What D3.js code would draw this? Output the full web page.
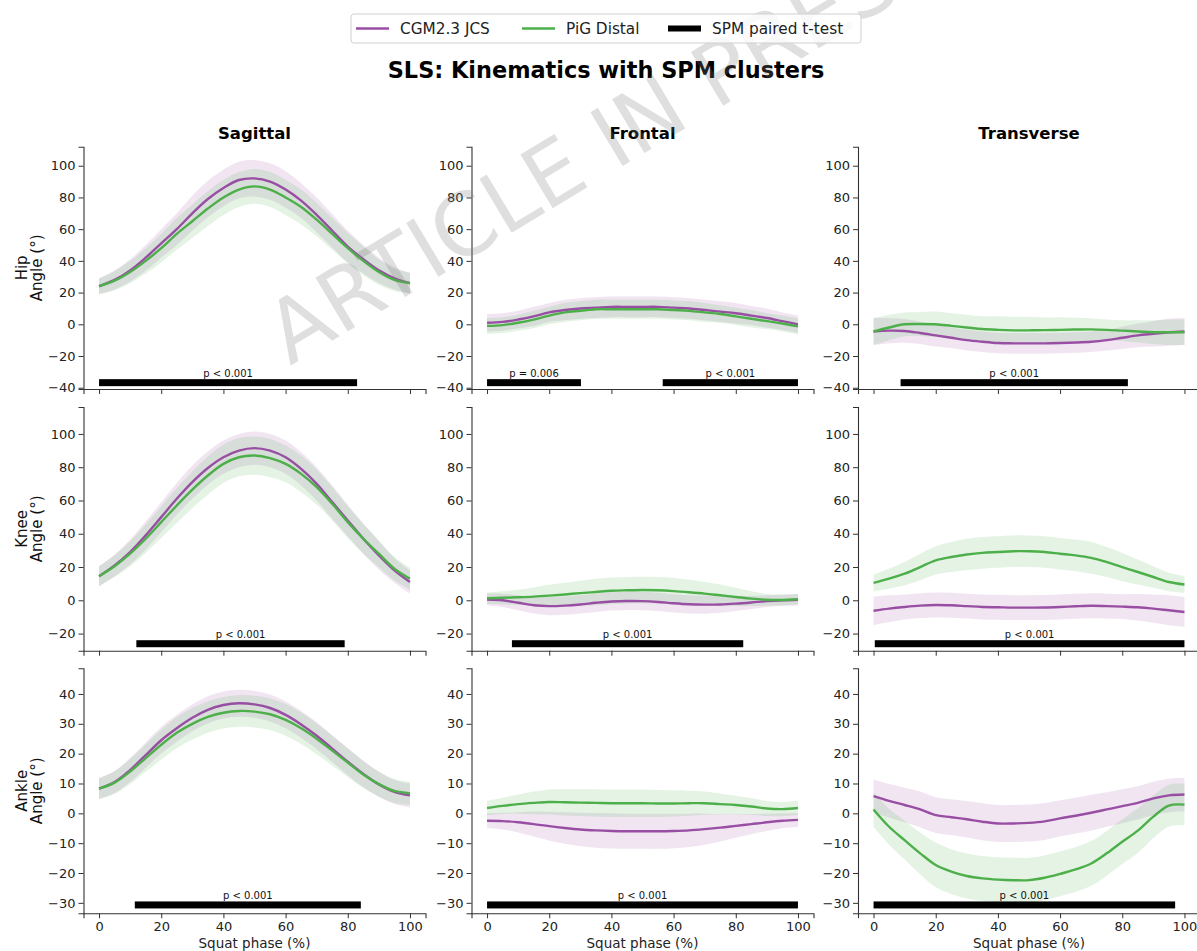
<!DOCTYPE html>
<html>
<head>
<meta charset="utf-8">
<script src="https://cdn.jsdelivr.net/npm/d3@7"></script>
<style>
  body { margin: 0; background: #fff; }
  svg { display: block; font-family: "DejaVu Sans", sans-serif; }
</style>
</head>
<body>
<svg id="chart" width="1197" height="951"></svg>
<script>
// squat phase sampled every 5 %
const phase = d3.range(0, 101, 5)
const planes = ["Sagittal", "Frontal", "Transverse"]
const joints = ["Hip", "Knee", "Ankle"]
const seriesNames = ["CGM2.3 JCS", "PiG Distal", "SPM paired t-test"]
const xTicks = [0, 20, 40, 60, 80, 100]
const yTicksHip = [-40, -20, 0, 20, 40, 60, 80, 100]
const yTicksKnee = [-20, 0, 20, 40, 60, 80, 100]
const yTicksAnkle = [-30, -20, -10, 0, 10, 20, 30, 40]

// mean and SD, CGM2.3 JCS (cgm) and PiG Distal (pig)
const hipSagCgm = [24, 28, 34, 42, 51, 60, 70, 79, 86, 91, 92, 90, 85, 78, 69, 59, 49, 41, 34, 29, 26]
const hipSagCgmSd = [5, 6, 7, 8, 9, 10, 11, 11.5, 11.5, 11.5, 11.5, 11.5, 11.5, 11, 11, 10.5, 10, 9, 8, 7, 6.5]
const hipSagPig = [24, 27.5, 33, 40, 48, 57, 65, 73, 80, 85, 87, 85, 80, 74, 66, 57, 48, 40, 33, 28, 26]
const hipSagPigSd = [5, 6, 7, 8, 9, 10, 10.5, 11, 11, 11, 11, 11, 11, 11, 10.5, 10, 9.5, 9, 8, 7, 6.5]

const hipFroCgm = [1, 1.5, 3, 5, 7.5, 9, 10, 10.5, 11, 11, 11, 11, 10.5, 10, 9, 8, 7, 5.5, 4, 2, 0]
const hipFroCgmSd = [5.5, 5.5, 5.5, 6, 6, 6.5, 6.5, 6.5, 6.5, 6.5, 6.5, 6.5, 6.5, 6.5, 6.5, 6.5, 6.5, 6, 6, 5.5, 5.5]
const hipFroPig = [-1, -0.5, 1, 3, 5.5, 7.5, 8.5, 9.5, 9.5, 9.5, 9.5, 9.5, 9, 8.5, 7.5, 6.5, 5, 3.5, 2, 0.5, -1.3]
const hipFroPigSd = [5, 5, 5, 5.5, 5.5, 6, 6, 6, 6, 6, 6, 6, 6, 6, 6, 5.5, 5.5, 5.5, 5, 5, 5]

const hipTraCgm = [-4.5, -4, -4.2, -5.5, -7, -8.5, -10, -11, -11.8, -12, -12, -12, -11.8, -11.5, -11, -10, -8.5, -7, -6, -5, -4.5]
const hipTraCgmSd = [8.5, 8, 7.5, 7, 7, 6.5, 6.5, 6.5, 6.5, 6.5, 6.5, 6.5, 6.5, 6.5, 6.5, 6.5, 7, 7.5, 8, 8.5, 8.5]
const hipTraPig = [-4.5, -2, 0, 0.2, 0, -1, -2, -3, -3.5, -3.8, -3.8, -3.7, -3.5, -3.3, -3.2, -3.5, -4, -4.5, -5, -5, -5]
const hipTraPigSd = [8.5, 8, 7.5, 7.5, 8, 8, 8, 8, 8.5, 8.5, 8.5, 8, 8, 7.5, 7, 6.5, 6.5, 7, 7.5, 8, 8]

const kneeSagCgm = [14.5, 21, 29, 39, 50, 61, 71, 79.5, 86, 90, 91.5, 90, 86, 79, 70, 59, 48, 37, 27, 18, 11]
const kneeSagCgmSd = [6, 6.5, 7.5, 8.5, 9, 9.5, 10, 10, 10, 10, 10, 10, 10, 10, 10, 10, 9.5, 9, 8.5, 7.5, 7]
const kneeSagPig = [14.5, 20.5, 28, 37, 47, 57, 66.5, 75, 82, 86, 87, 85.5, 82, 76, 68, 58, 47, 37, 28, 19, 13]
const kneeSagPigSd = [6, 6.5, 7.5, 8.5, 9.5, 10.5, 11, 11.5, 11.5, 11.5, 11.5, 11.5, 11, 11, 10.5, 10, 9.5, 9, 8, 7, 6.5]

const kneeFroCgm = [0.5, 0, -1.5, -3, -3.5, -3.2, -2.5, -1.5, -0.7, -0.4, -0.5, -1, -1.8, -2.4, -2.6, -2.5, -2, -1.3, -0.5, 0, 0.3]
const kneeFroCgmSd = [3.5, 4, 4.5, 5, 5.5, 5.5, 5.5, 5.5, 5.5, 5.5, 5.5, 5.5, 5.5, 5.5, 5.5, 5, 4.5, 4, 3.5, 3.5, 3.5]
const kneeFroPig = [1.2, 1.5, 1.8, 2.2, 2.8, 3.5, 4.3, 5, 5.7, 6, 6.2, 6, 5.5, 4.8, 4, 3, 2, 1, 0.3, 0.2, 0.6]
const kneeFroPigSd = [3.5, 4, 4.5, 5.5, 6.5, 7, 7.5, 8, 8, 8, 8, 8, 8, 7.5, 7, 6.5, 5.5, 4.5, 3.5, 3.2, 3.2]

const kneeTraCgm = [-6.3, -5, -4, -3.2, -2.8, -3, -3.5, -4, -4.2, -4.4, -4.4, -4.3, -4, -3.6, -3.3, -3.5, -3.8, -4.2, -5, -6, -7]
const kneeTraCgmSd = [8.5, 8, 7.5, 7.5, 7.5, 7.5, 7.5, 7.5, 7.5, 7.5, 7.5, 7.5, 7.5, 7.5, 7.5, 7.5, 7.5, 8, 8.5, 9, 9]
const kneeTraPig = [10.5, 13, 16, 20, 24, 26, 27.5, 28.5, 29, 29.5, 29.5, 29, 28, 27, 25.5, 23, 20, 17, 14, 11, 9.5]
const kneeTraPigSd = [5, 6, 7, 8, 8.5, 9, 9.5, 9.5, 9.5, 9.5, 9.5, 9.5, 9.5, 9.5, 9.5, 9, 8.5, 7.5, 6.5, 5.5, 5]

const ankSagCgm = [8.3, 10.5, 14.5, 19.5, 24.5, 28.5, 32, 34.7, 36.3, 36.9, 36.5, 35.3, 33, 29.8, 26, 21.7, 17.3, 13.2, 9.7, 7.2, 6]
const ankSagCgmSd = [3.5, 3.7, 4, 4.2, 4.4, 4.5, 4.5, 4.5, 4.5, 4.5, 4.5, 4.5, 4.5, 4.5, 4.5, 4.5, 4.5, 4.4, 4.2, 4, 4]
const ankSagPig = [8.3, 10.3, 14, 18.5, 23, 27, 30, 32.3, 33.7, 34.3, 34.1, 33.2, 31.3, 28.5, 25, 21, 17, 13, 9.8, 7.5, 6.7]
const ankSagPigSd = [3.5, 3.8, 4.2, 4.6, 5, 5.2, 5.3, 5.3, 5.3, 5.3, 5.3, 5.3, 5.3, 5.3, 5.2, 5, 4.8, 4.5, 4.2, 4, 3.8]

const ankFroCgm = [-2.5, -2.6, -3, -3.6, -4.3, -4.9, -5.4, -5.7, -5.9, -6, -6, -6, -5.9, -5.7, -5.3, -4.8, -4.2, -3.6, -3, -2.5, -2.2]
const ankFroCgmSd = [2.5, 2.8, 3.4, 4.2, 4.8, 5.3, 5.6, 5.8, 5.9, 5.9, 5.9, 5.9, 5.8, 5.6, 5.2, 4.6, 4, 3.4, 2.9, 2.5, 2.3]
const ankFroPig = [1.8, 2.5, 3.1, 3.5, 3.8, 3.7, 3.6, 3.5, 3.4, 3.4, 3.4, 3.3, 3.3, 3.4, 3.4, 3.1, 2.8, 2.3, 1.6, 1.4, 1.8]
const ankFroPigSd = [2.4, 2.7, 3.2, 3.8, 4.2, 4.4, 4.5, 4.6, 4.6, 4.6, 4.6, 4.5, 4.4, 4.2, 3.9, 3.5, 3.1, 2.8, 2.5, 2.4, 2.4]

const ankTraCgm = [5.8, 4.2, 2.8, 1.3, -0.6, -1.3, -2, -2.8, -3.4, -3.4, -3.2, -2.7, -1.7, -0.8, 0.2, 1.3, 2.4, 3.5, 5, 6, 6.3]
const ankTraCgmSd = [5.5, 5.6, 5.8, 6, 6, 6, 6.1, 6.2, 6.2, 6.2, 6.2, 6.2, 6.1, 6, 6, 5.8, 5.7, 5.6, 5.6, 5.6, 5.6]
const ankTraPig = [1.3, -4.5, -9, -13.4, -17.3, -19.5, -21, -21.8, -22.2, -22.4, -22.4, -21.6, -20.3, -18.8, -16.8, -13.4, -9.5, -5.8, -1.1, 2.6, 2.9]
const ankTraPigSd = [5.8, 6, 6.5, 7, 7.5, 7.5, 7.5, 7.5, 7.5, 7.5, 7.5, 7.5, 7.5, 7.5, 7.5, 7.5, 7.5, 7.5, 7.2, 7, 7]

// SPM clusters: [start %, end %, p label]
const hipSagSpm = [[0, 83, "p < 0.001"]]
const hipFroSpm = [[0, 30.2, "p = 0.006"], [56.5, 100, "p < 0.001"]]
const hipTraSpm = [[8.7, 81.8, "p < 0.001"]]
const kneeSagSpm = [[12, 79, "p < 0.001"]]
const kneeFroSpm = [[8, 82.4, "p < 0.001"]]
const kneeTraSpm = [[0.4, 100, "p < 0.001"]]
const ankSagSpm = [[11.5, 84.2, "p < 0.001"]]
const ankFroSpm = [[0, 100, "p < 0.001"]]
const ankTraSpm = [[0, 97, "p < 0.001"]]

const panels = [
  [hipSagCgm, hipSagCgmSd, hipSagPig, hipSagPigSd, hipSagSpm],
  [hipFroCgm, hipFroCgmSd, hipFroPig, hipFroPigSd, hipFroSpm],
  [hipTraCgm, hipTraCgmSd, hipTraPig, hipTraPigSd, hipTraSpm],
  [kneeSagCgm, kneeSagCgmSd, kneeSagPig, kneeSagPigSd, kneeSagSpm],
  [kneeFroCgm, kneeFroCgmSd, kneeFroPig, kneeFroPigSd, kneeFroSpm],
  [kneeTraCgm, kneeTraCgmSd, kneeTraPig, kneeTraPigSd, kneeTraSpm],
  [ankSagCgm, ankSagCgmSd, ankSagPig, ankSagPigSd, ankSagSpm],
  [ankFroCgm, ankFroCgmSd, ankFroPig, ankFroPigSd, ankFroSpm],
  [ankTraCgm, ankTraCgmSd, ankTraPig, ankTraPigSd, ankTraSpm]
]

// layout
const colLeft = [83.5, 471.5, 858]
const plotW = 342
const rowTop = [146.7, 407, 668.3]
const rowBottom = [389, 650.7, 913.3]
const yDomains = [[-40.8, 112], [-30.3, 116.2], [-33.5, 48.6]]
const yTickSets = [yTicksHip, yTicksKnee, yTicksAnkle]
const spmLevel = [-36.8, -26.1, -30.7]
const purple = "#984ea3"
const green = "#4daf4a"

const svg = d3.select("#chart")
const minus = d => d < 0 ? "\u2212" + Math.abs(d) : String(d)

panels.forEach((p, k) => {
  const r = Math.floor(k / 3), c = k % 3
  const [cgm, cgmSd, pig, pigSd, spm] = p
  const x = d3.scaleLinear().domain([-5, 105]).range([colLeft[c], colLeft[c] + plotW])
  const y = d3.scaleLinear().domain(yDomains[r]).range([rowBottom[r], rowTop[r]])
  const g = svg.append("g")

  const band = (m, s) => d3.area()
    .x((d, i) => x(phase[i]))
    .y0((d, i) => y(m[i] - s[i]))
    .y1((d, i) => y(m[i] + s[i]))
    .curve(d3.curveCatmullRom)(m)
  const line = m => d3.line()
    .x((d, i) => x(phase[i]))
    .y(d => y(d))
    .curve(d3.curveCatmullRom)(m)

  g.append("path").attr("d", band(cgm, cgmSd)).attr("fill", purple).attr("fill-opacity", 0.15)
  g.append("path").attr("d", band(pig, pigSd)).attr("fill", green).attr("fill-opacity", 0.15)
  g.append("path").attr("d", line(cgm)).attr("fill", "none").attr("stroke", purple).attr("stroke-width", 2.4)
  g.append("path").attr("d", line(pig)).attr("fill", "none").attr("stroke", green).attr("stroke-width", 2.4)

  spm.forEach(([a, b, label]) => {
    g.append("rect")
      .attr("x", x(a)).attr("width", x(b) - x(a))
      .attr("y", y(spmLevel[r]) - 3.5).attr("height", 7)
      .attr("fill", "#000")
    g.append("text")
      .attr("x", (x(a) + x(b)) / 2).attr("y", y(spmLevel[r]) - 6)
      .attr("text-anchor", "middle").attr("font-size", 10).attr("fill", "#111")
      .text(label)
  })

  const yAxis = d3.axisLeft(y).tickValues(yTickSets[r]).tickSizeOuter(0).tickSize(5).tickPadding(3).tickFormat(minus)
  g.append("g").attr("transform", `translate(${colLeft[c]},0)`).call(yAxis)
  const xAxis = d3.axisBottom(x).tickValues(xTicks).tickSizeOuter(0).tickSize(5).tickPadding(3)
    .tickFormat(r === 2 ? minus : "")
  g.append("g").attr("transform", `translate(0,${rowBottom[r]})`).call(xAxis)

  g.selectAll(".domain").attr("stroke", "#333").attr("stroke-width", 1.1)
  g.selectAll(".tick line").attr("stroke", "#333").attr("stroke-width", 1)
  g.selectAll(".tick text").attr("font-size", 13).attr("fill", "#222").attr("font-family", "DejaVu Sans")

  if (r === 0) {
    g.append("text")
      .attr("x", colLeft[c] + plotW / 2).attr("y", 139)
      .attr("text-anchor", "middle").attr("font-size", 16.5).attr("font-weight", "bold")
      .text(planes[c])
  }
  if (r === 2) {
    g.append("text")
      .attr("x", colLeft[c] + plotW / 2).attr("y", 948)
      .attr("text-anchor", "middle").attr("font-size", 13.5).attr("fill", "#222")
      .text("Squat phase (%)")
  }
  if (c === 0) {
    const cy = (rowTop[r] + rowBottom[r]) / 2
    const lab = g.append("text")
      .attr("transform", `translate(27,${cy}) rotate(-90)`)
      .attr("text-anchor", "middle").attr("font-size", 15).attr("fill", "#111")
    lab.append("tspan").attr("x", 0).attr("y", 0).text(joints[r])
    lab.append("tspan").attr("x", 0).attr("y", 15).text("Angle (°)")
  }
})

svg.append("text")
  .attr("x", 606).attr("y", 78)
  .attr("text-anchor", "middle").attr("font-size", 22.4).attr("font-weight", "bold")
  .text("SLS: Kinematics with SPM clusters")

// watermark
svg.append("text")
  .attr("transform", "translate(290,366) rotate(-31)")
  .attr("font-size", 86).attr("fill", "#808080").attr("fill-opacity", 0.25)
  .text("ARTICLE IN PRESS")

// legend
const lg = svg.append("g")
lg.append("rect").attr("x", 351).attr("y", 14).attr("width", 510).attr("height", 29).attr("rx", 3)
  .attr("fill", "#fff").attr("fill-opacity", 0.8).attr("stroke", "#d0d0d0")
const items = [
  { x: 356, color: purple, w: 2.4 },
  { x: 522, color: green, w: 2.4 },
  { x: 668, color: "#000", w: 6 }
]
items.forEach((it, i) => {
  lg.append("line").attr("x1", it.x).attr("x2", it.x + 33).attr("y1", 28.5).attr("y2", 28.5)
    .attr("stroke", it.color).attr("stroke-width", it.w)
  lg.append("text").attr("x", it.x + 44).attr("y", 34).attr("font-size", 15.3).attr("fill", "#222")
    .text(seriesNames[i])
})
</script>
</body>
</html>
